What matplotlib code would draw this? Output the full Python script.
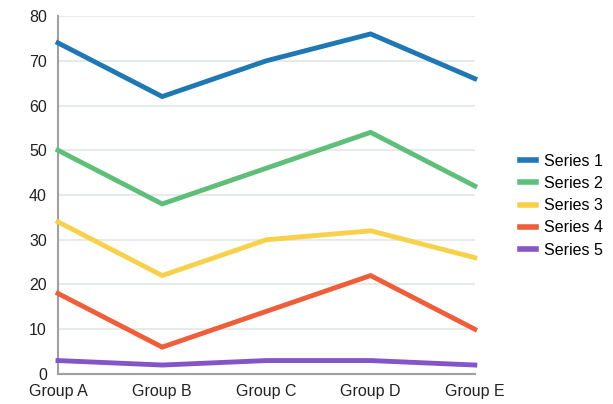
import matplotlib
matplotlib.use("Agg")
import matplotlib.pyplot as plt

plt.rcParams['font.family'] = ['Liberation Sans', 'DejaVu Sans']

# data
groups = ["Group A", "Group B", "Group C", "Group D", "Group E"]
series_names = ["Series 1", "Series 2", "Series 3", "Series 4", "Series 5"]
series_1 = [74, 62, 70, 76, 66]
series_2 = [50, 38, 46, 54, 42]
series_3 = [34, 22, 30, 32, 26]
series_4 = [18, 6, 14, 22, 10]
series_5 = [3, 2, 3, 3, 2]
colors = ["#1f77b4", "#5fbf7a", "#f8d14c", "#ef5e3b", "#8455c9"]

fig = plt.figure(figsize=(6.13, 4.04), dpi=100)
ax = fig.add_axes([0.0946, 0.0743, 0.68, 0.886])

x = list(range(len(groups)))
for name, vals, c in zip(series_names, [series_1, series_2, series_3, series_4, series_5], colors):
    ax.plot(x, vals, color=c, linewidth=3.5, label=name, solid_joinstyle='miter', clip_on=False, zorder=3)

ax.set_xlim(0, 4)
ax.set_ylim(0, 80)
ax.set_yticks(range(0, 81, 10))
ax.set_xticks(x)
ax.set_xticklabels(groups)
ax.tick_params(axis='both', length=0, labelsize=11.5, colors='#222222')
ax.tick_params(axis='x', pad=7)
ax.tick_params(axis='y', pad=8)
ax.grid(axis='y', color='#e6ebea', linewidth=1.5)
ax.set_axisbelow(True)
for s in ['top', 'right']:
    ax.spines[s].set_visible(False)
for s in ['left', 'bottom']:
    ax.spines[s].set_color('#a0a0a0')
    ax.spines[s].set_linewidth(1.5)

leg = ax.legend(loc='center left', bbox_to_anchor=(1.075, 0.47), frameon=False,
                fontsize=11.5, handlelength=1.0, handletextpad=0.5, labelspacing=0.45)
for h in leg.legend_handles:
    h.set_linewidth(4)

fig.savefig("out.png", dpi=100)
